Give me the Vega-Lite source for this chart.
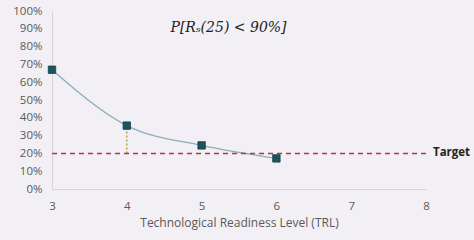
{
  "$schema": "https://vega.github.io/schema/vega-lite/v6.json",
  "width": 374,
  "height": 178,
  "autosize": {"type": "none"},
  "padding": {"left": 52, "top": 11, "right": 48, "bottom": 51},
  "background": "#f2f0f5",
  "config": {
    "view": {"stroke": null},
    "font": "Open Sans",
    "axis": {"grid": false, "ticks": false, "domainColor": "#d6d4da", "labelColor": "#595959", "titleColor": "#595959", "labelFont": "Open Sans", "titleFont": "Open Sans", "labelOverlap": false, "labelFlush": false, "labelBound": false}
  },
  "encoding": {
    "x": {"field": "trl", "type": "quantitative", "scale": {"domain": [3, 8]}, "axis": {"values": [3, 4, 5, 6, 7, 8], "format": "d", "labelOverlap": false, "title": "Technological Readiness Level (TRL)", "labelFontSize": 11.5, "titleFontSize": 12, "titleFontWeight": "normal", "labelPadding": 11, "titlePadding": 6}},
    "y": {"field": "p", "type": "quantitative", "scale": {"domain": [0, 1]}, "axis": {"values": [0, 0.1, 0.2, 0.3, 0.4, 0.5, 0.6, 0.7, 0.8, 0.9, 1], "format": ".0%", "labelOverlap": false, "title": null, "labelFontSize": 11.5, "labelPadding": 10}}
  },
  "layer": [
    {
      "data": {"values": [{"trl": 3, "p": 0.67}, {"trl": 4, "p": 0.356}, {"trl": 5, "p": 0.245}, {"trl": 6, "p": 0.172}]},
      "mark": {"type": "line", "interpolate": "monotone", "color": "#8eaeb6", "strokeWidth": 1.3}
    },
    {
      "data": {"values": [{"trl": 4, "p": 0.2, "hi": 0.356}]},
      "mark": {"type": "rule", "color": "#b0a44a", "strokeDash": [2, 2], "strokeWidth": 1.5},
      "encoding": {"y2": {"field": "hi"}}
    },
    {
      "data": {"values": [{"trl": 3, "b": 8, "p": 0.2}]},
      "mark": {"type": "rule", "color": "#b5383c", "strokeDash": [5, 4], "strokeWidth": 1.5},
      "encoding": {"x2": {"field": "b"}}
    },
    {
      "data": {"values": [{"trl": 3, "p": 0.67}, {"trl": 4, "p": 0.356}, {"trl": 5, "p": 0.245}, {"trl": 6, "p": 0.172}]},
      "mark": {"type": "point", "shape": "square", "filled": true, "size": 55, "color": "#1d545b", "opacity": 1, "stroke": "#163f44", "strokeWidth": 0.8}
    },
    {
      "data": {"values": [{"trl": 8, "p": 0.2, "label": "Target"}]},
      "mark": {"type": "text", "align": "left", "baseline": "middle", "dx": 7, "fontWeight": "bold", "fontSize": 11.5, "color": "#222222", "font": "Open Sans"},
      "encoding": {"text": {"field": "label"}}
    },
    {
      "data": {"values": [{"trl": 5.36, "p": 0.905, "label": "P[Rₛ(25) < 90%]"}]},
      "mark": {"type": "text", "align": "center", "baseline": "middle", "fontSize": 14, "fontStyle": "italic", "color": "#222222", "font": "DejaVu Serif"},
      "encoding": {"text": {"field": "label"}}
    }
  ]
}
